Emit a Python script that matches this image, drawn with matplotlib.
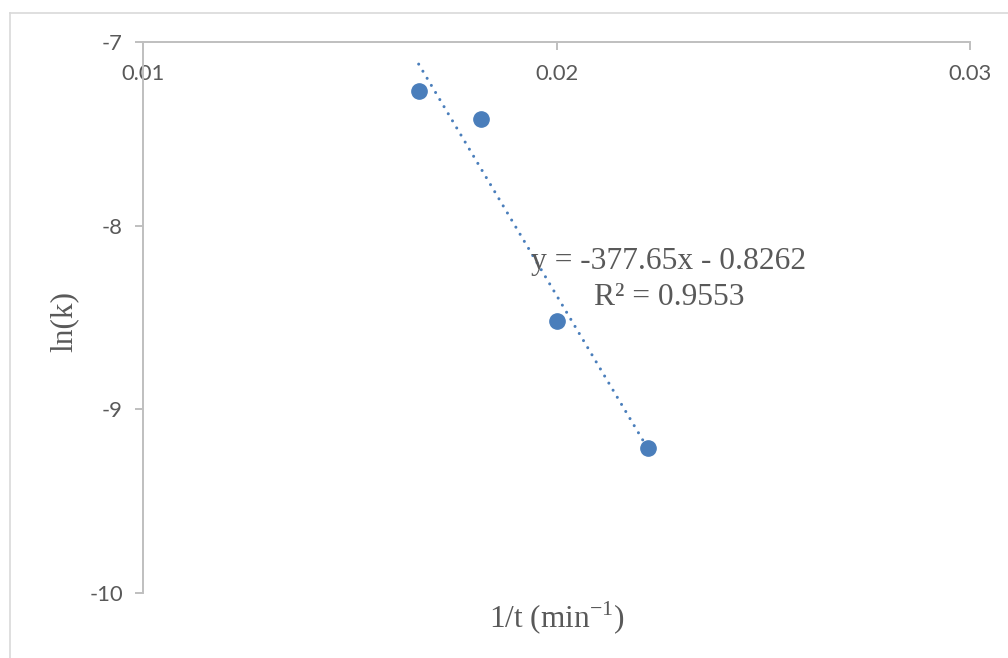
import matplotlib
matplotlib.use("Agg")
import matplotlib.pyplot as plt
from matplotlib.lines import Line2D

# Reciprocal time and ln of the rate constant
inv_t = [0.016667, 0.018182, 0.02, 0.022222]
ln_k = [-7.267, -7.419, -8.519, -9.210]

# Linear trendline as reported
slope = -377.65
intercept = -0.8262
r_squared = 0.9553

x_ticks = [0.01, 0.02, 0.03]
y_ticks = [-10, -9, -8, -7]

blue = "#4A7EBB"
axis_gray = "#BFBFBF"
text_gray = "#595959"
tick_font = "Lato"
serif_font = "Liberation Serif"

plt.rcParams["mathtext.fontset"] = "custom"
plt.rcParams["mathtext.rm"] = serif_font

fig = plt.figure(figsize=(10.08, 6.58), dpi=100)
ax = fig.add_axes([143 / 1008, 1 - 593 / 658, 827 / 1008, 551 / 658])

# Chart border (only top and left edges fall inside the image)
fig.add_artist(Line2D([10 / 1008, 1.0], [1 - 13 / 658, 1 - 13 / 658], color="#D9D9D9", lw=1.2))
fig.add_artist(Line2D([10 / 1008, 10 / 1008], [0.0, 1 - 13 / 658], color="#D9D9D9", lw=1.2))

ax.plot(inv_t, ln_k, "o", color=blue, ms=11, zorder=3)

x_fit = [min(inv_t), max(inv_t)]
y_fit = [slope * v + intercept for v in x_fit]
ax.plot(x_fit, y_fit, color=blue, lw=2.2, linestyle=(0, (0.001, 2.7)),
        dash_capstyle="round", zorder=2)

ax.set_xlim(0.01, 0.03)
ax.set_ylim(-10, -7)
ax.set_xticks(x_ticks)
ax.set_yticks(y_ticks)
ax.set_xticklabels([f"{v:g}" for v in x_ticks])
ax.set_yticklabels([f"{v:d}" for v in y_ticks])

# x axis crosses at the top (y = -7), labels hang below it
ax.spines["bottom"].set_position(("data", -7))
ax.spines["top"].set_visible(False)
ax.spines["right"].set_visible(False)
for s in ("bottom", "left"):
    ax.spines[s].set_color(axis_gray)
    ax.spines[s].set_linewidth(1.4)

ax.tick_params(axis="both", direction="out", length=5.5, width=1.4, color=axis_gray,
               labelcolor=text_gray, labelsize=15.8)
ax.tick_params(axis="x", pad=10)
ax.tick_params(axis="y", pad=9)
for lab in ax.get_xticklabels() + ax.get_yticklabels():
    lab.set_fontfamily(tick_font)

ax.text(-0.0955, 0.4936, "ln(k)", transform=ax.transAxes, rotation=90,
        ha="center", va="center", fontsize=22.5, family=serif_font, color=text_gray)
ax.text(0.5006, -0.0454, r"1/t (min$^{\mathregular{-1}}$)", transform=ax.transAxes,
        ha="center", va="center", fontsize=22.5, family=serif_font, color=text_gray)

eq = f"y = {slope:g}x - {abs(intercept):g}\nR² = {r_squared:g}"
ax.text(0.02272, -8.292, eq, ha="center", va="center", multialignment="center",
        fontsize=22.7, family=serif_font, color=text_gray, linespacing=1.32)

fig.savefig("out.png", dpi=100)
